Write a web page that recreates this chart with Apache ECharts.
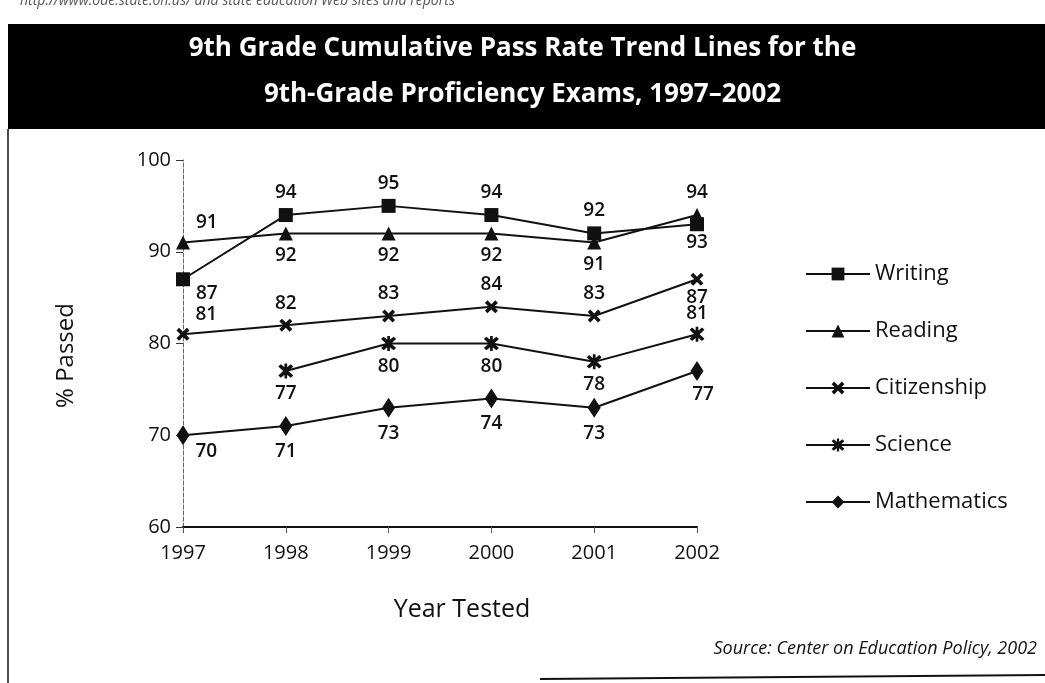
<!DOCTYPE html>
<html>
<head>
<meta charset="utf-8">
<script src="https://cdn.jsdelivr.net/npm/echarts@6/dist/echarts.min.js"></script>
<style>
  html, body { margin: 0; padding: 0; background: #fff; }
  #chart { width: 1045px; height: 683px; }
</style>
</head>
<body>
<div id="chart"></div>
<script>
const years = ['1997', '1998', '1999', '2000', '2001', '2002']
const writing = [87, 94, 95, 94, 92, 93]
const reading = [91, 92, 92, 92, 91, 94]
const citizenship = [81, 82, 83, 84, 83, 87]
const science = [null, 77, 80, 80, 78, 81]
const mathematics = [70, 71, 73, 74, 73, 77]

// label placement per point: [position, dx, dy] (presentation only)
const writingPos = [['right', 0, 14], ['top', 0, 0], ['top', 0, 0], ['top', 0, 0], ['top', 0, 0], ['bottom', 0, -4]]
const readingPos = [['right', 0, -20], ['bottom', 0, 0], ['bottom', 0, 0], ['bottom', 0, 0], ['bottom', 0, 0], ['top', 0, 0]]
const citizenshipPos = [['right', 0, -20], ['top', 0, 0], ['top', 0, 0], ['top', 0, 0], ['top', 0, 0], ['bottom', 0, -4]]
const sciencePos = [null, ['bottom', 0, 0], ['bottom', 0, 0], ['bottom', 0, 0], ['bottom', 0, 0], ['top', 0, 2]]
const mathPos = [['right', 0, 16], ['bottom', 0, 0], ['bottom', 0, 0], ['bottom', 0, 0], ['bottom', 0, 0], ['bottom', 6, -2]]

const crossPath = 'path://M2,0 L5,3 L8,0 L10,2 L7,5 L10,8 L8,10 L5,7 L2,10 L0,8 L3,5 L0,2 Z'
const starPath = 'path://M2,0.5 L5,3.2 L8,0.5 L9.5,2 L6.6,5 L9.5,8 L8,9.5 L5,6.8 L2,9.5 L0.5,8 L3.4,5 L0.5,2 Z M4.2,0 L5.8,0 L5.8,10 L4.2,10 Z'

const labelStyle = { fontSize: 19, fontWeight: 600, color: '#111', fontFamily: 'Open Sans' }

const toData = (vals, pos) => vals.map((v, i) => {
  if (v === null) return null
  const [p, dx, dy] = pos[i]
  return { value: v, label: { position: p, distance: 6, offset: [dx, dy] } }
})

const makeSeries = (name, vals, pos, symbol, size) => ({
  name,
  type: 'line',
  data: toData(vals, pos),
  symbol,
  symbolSize: size,
  showAllSymbol: true,
  lineStyle: { color: '#111', width: 2 },
  itemStyle: { color: '#111' },
  label: { show: true, ...labelStyle },
  emphasis: { disabled: true },
  animation: false
})

const chart = echarts.init(document.getElementById('chart'))
chart.setOption({
  backgroundColor: '#fff',
  animation: false,
  grid: { left: 183, right: 348, top: 160, bottom: 156 },
  xAxis: {
    type: 'category',
    data: years,
    boundaryGap: false,
    name: 'Year Tested',
    nameLocation: 'middle',
    nameGap: 70,
    nameTextStyle: { fontSize: 25, fontWeight: 500, color: '#111', fontFamily: 'Open Sans', padding: [0, 0, 0, 44] },
    axisLine: { lineStyle: { color: '#111', width: 2 } },
    axisTick: { show: true, length: 6, lineStyle: { color: '#555' } },
    axisLabel: { fontSize: 20, color: '#111', margin: 16, fontFamily: 'Open Sans' },
    splitLine: { show: false }
  },
  yAxis: {
    type: 'value',
    min: 60,
    max: 100,
    interval: 10,
    name: '% Passed',
    nameLocation: 'middle',
    nameGap: 105,
    nameRotate: 90,
    nameTextStyle: { fontSize: 24, fontWeight: 500, color: '#111', fontFamily: 'Open Sans', padding: [0, 24, 0, 0] },
    axisLine: { show: true, lineStyle: { color: '#666', width: 1, type: 'dashed' } },
    axisTick: { show: true, length: 7, lineStyle: { color: '#333' } },
    axisLabel: { fontSize: 20, color: '#111', margin: 12, fontFamily: 'Open Sans' },
    splitLine: { show: false }
  },
  legend: {
    orient: 'vertical',
    left: 800,
    top: 258,
    itemWidth: 64,
    itemHeight: 16,
    itemGap: 35,
    textStyle: { fontSize: 22, color: '#111', fontFamily: 'Open Sans' },
    data: ['Writing', 'Reading', 'Citizenship', 'Science', 'Mathematics']
  },
  graphic: [
    { type: 'rect', shape: { x: 8, y: 24, width: 1037, height: 105 }, style: { fill: '#000' } },
    { type: 'text', left: 'center', top: 36, style: { text: '9th Grade Cumulative Pass Rate Trend Lines for the', fill: '#fff', fontSize: 26, fontWeight: 'bold', fontFamily: 'Open Sans' } },
    { type: 'text', left: 'center', top: 82, style: { text: '9th-Grade Proficiency Exams, 1997\u20132002', fill: '#fff', fontSize: 26, fontWeight: 'bold', fontFamily: 'Open Sans' } },
    { type: 'text', left: 20, top: -6, style: { text: 'http://www.ode.state.oh.us/ and state education Web sites and reports', fill: '#555', fontSize: 14, fontStyle: 'italic', fontFamily: 'Open Sans' } },
    { type: 'line', shape: { x1: 8, y1: 129, x2: 8, y2: 683 }, style: { stroke: '#111', lineWidth: 1.5 } },
    { type: 'line', shape: { x1: 540, y1: 679, x2: 1045, y2: 675 }, style: { stroke: '#111', lineWidth: 2 } },
    { type: 'text', right: 8, top: 640, style: { text: 'Source: Center on Education Policy, 2002', fill: '#111', fontSize: 18, fontStyle: 'italic', fontFamily: 'Open Sans' } }
  ],
  series: [
    makeSeries('Writing', writing, writingPos, 'rect', 14),
    makeSeries('Reading', reading, readingPos, 'triangle', 14),
    makeSeries('Citizenship', citizenship, citizenshipPos, crossPath, 13),
    makeSeries('Science', science, sciencePos, starPath, 15),
    makeSeries('Mathematics', mathematics, mathPos, 'diamond', [13, 20])
  ]
})
</script>
</body>
</html>
